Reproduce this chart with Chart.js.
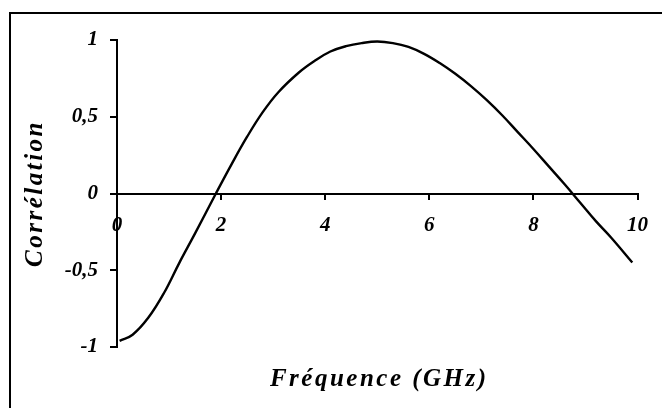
<!DOCTYPE html>
<html>
<head>
<meta charset="utf-8">
<script src="https://cdn.jsdelivr.net/npm/chart.js@4.4.0/dist/chart.umd.min.js"></script>
<style>
  html, body { margin: 0; padding: 0; background: #fff; }
  #wrap { position: relative; width: 662px; height: 408px; }
</style>
</head>
<body>
<div id="wrap"><canvas id="chart" width="662" height="408"></canvas></div>
<script>
// values
const freqs = [0.05, 0.3, 0.6, 0.9, 1.2, 1.5, 1.9, 2.2, 2.5, 2.8, 3.1, 3.5, 3.8, 4.1, 4.4, 4.7, 5.0, 5.3, 5.6, 5.9, 6.2, 6.5, 6.8, 7.1, 7.4, 7.7, 8.0, 8.3, 8.6, 8.9, 9.2, 9.5, 9.9];
const corr  = [-0.96, -0.92, -0.81, -0.65, -0.45, -0.26, 0.0, 0.19, 0.37, 0.53, 0.66, 0.79, 0.865, 0.925, 0.96, 0.98, 0.99, 0.98, 0.955, 0.91, 0.85, 0.78, 0.70, 0.61, 0.51, 0.40, 0.29, 0.175, 0.06, -0.06, -0.18, -0.29, -0.45];
const xTicks = [0, 2, 4, 6, 8, 10];
const yTicks = [-1, -0.5, 0, 0.5, 1];
const xTitle = "Fréquence (GHz)";
const yTitle = "Corrélation";

const tickFont = { family: "'Liberation Serif', serif", size: 21, style: 'italic', weight: 'bold' };

// french decimal comma
function frNum(v) { return String(v).replace('.', ','); }

// frame + axis titles (spaced out like the scan)
const decor = {
  id: 'decor',
  beforeDraw(chart) {
    const c = chart.ctx;
    c.save();
    c.strokeStyle = '#000';
    c.lineWidth = 2;
    c.beginPath();
    c.moveTo(10, 408);
    c.lineTo(10, 13);
    c.lineTo(662, 13);
    c.stroke();
    c.restore();
  },
  afterDraw(chart) {
    const c = chart.ctx;
    const a = chart.chartArea;
    c.save();
    c.fillStyle = '#000';
    c.font = "italic bold 25px 'Liberation Serif', serif";
    c.letterSpacing = '2.5px';
    c.textAlign = 'center';
    c.textBaseline = 'middle';
    c.fillText(xTitle, (a.left + a.right) / 2 + 2, 380);
    c.translate(36, (a.top + a.bottom) / 2);
    c.rotate(-Math.PI / 2);
    c.fillText(yTitle, 0, 0);
    c.restore();
  }
};

new Chart(document.getElementById('chart'), {
  type: 'scatter',
  data: {
    datasets: [{
      data: freqs.map((f, i) => ({ x: f, y: corr[i] })),
      showLine: true,
      borderColor: '#000',
      borderWidth: 2.4,
      pointRadius: 0,
      tension: 0.4,
      fill: false
    }]
  },
  options: {
    responsive: false,
    animation: false,
    layout: { padding: { top: 40, right: 15, bottom: 61, left: 0 } },
    plugins: { legend: { display: false }, tooltip: { enabled: false } },
    scales: {
      x: {
        type: 'linear',
        position: { y: 0 },
        min: 0, max: 10,
        afterBuildTicks: s => { s.ticks = xTicks.map(v => ({ value: v })); },
        ticks: { color: '#000', font: tickFont, padding: 14, maxRotation: 0, callback: v => frNum(v) },
        grid: { drawOnChartArea: false, drawTicks: true, tickLength: 5, color: '#000', lineWidth: 2 },
        border: { display: true, color: '#000', width: 2 }
      },
      y: {
        type: 'linear',
        position: 'left',
        min: -1, max: 1,
        afterBuildTicks: s => { s.ticks = yTicks.map(v => ({ value: v })); },
        afterFit: s => { s.width = 117; },
        ticks: { color: '#000', font: tickFont, padding: 12, callback: v => frNum(v) },
        grid: { drawOnChartArea: false, drawTicks: true, tickLength: 7, color: '#000', lineWidth: 2 },
        border: { display: true, color: '#000', width: 2 }
      }
    }
  },
  plugins: [decor]
});
</script>
</body>
</html>
